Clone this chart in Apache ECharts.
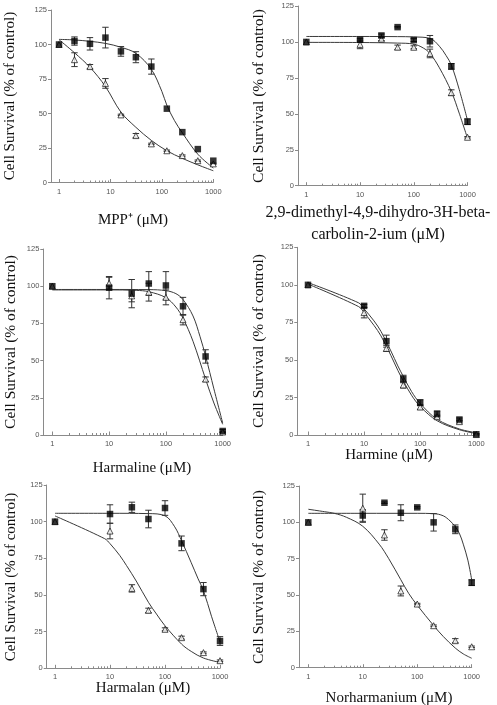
<!DOCTYPE html>
<html><head><meta charset="utf-8">
<script src="https://cdn.jsdelivr.net/npm/echarts@6/dist/echarts.min.js"></script>
<style>html,body{margin:0;padding:0;background:#fff}#c{width:497px;height:705px}</style>
</head><body><div id="c"></div>
<script>
// ---------- DATA ----------
// Panel 1: MPP+
const mppConc = [1, 2, 4, 8, 16, 31.25, 62.5, 125, 250, 500, 1000];
const mppSq = [100, 102.5, 100.5, 105, 95, 90.8, 84, 53.5, 36.5, 24.2, 15.8];
const mppSqErr = [0, 3, 4.5, 7.5, 3.5, 4, 5.5, 0, 0, 0, 0];
const mppTr = [100, 89, 84, 71.8, 49, 34, 28, 23, 19.5, 15.8, 13.5];
const mppTrErr = [0, 5, 1.5, 3.5, 0.5, 1.5, 0.5, 0.5, 0.5, 0.5, 0.5];
const mppSqFitX = [1, 2, 4, 8, 16, 31.25, 62.5, 100, 125, 175, 250, 500, 1000];
const mppSqFitY = [103.7, 103.3, 102.3, 100.8, 98, 93.6, 82, 66, 56, 45, 36, 20.5, 10.5];
const mppTrFitX = [1, 2, 4, 8, 16, 31.25, 62.5, 125, 250, 500, 1000];
const mppTrFitY = [103.5, 94, 83.5, 69.5, 51, 40, 30.5, 23, 17.5, 12.8, 8.5];

// Panel 2: 2,9-dimethyl-4,9-dihydro-3H-beta-carbolin-2-ium
const dmcConc = [1, 10, 25, 50, 100, 200, 500, 1000];
const dmcSq = [100, 101.5, 104.5, 110.3, 101.3, 100.5, 83, 44.5];
const dmcSqErr = [0, 1, 1, 0.5, 1, 4, 2, 2];
const dmcTr = [100, 98.3, 102, 96.3, 96.3, 92, 64.7, 33.7];
const dmcTrErr = [0, 3, 1, 1.5, 1, 3, 2, 0.5];
const dmcSqFitX = [1, 10, 50, 100, 200, 300, 400, 500, 700, 1000];
const dmcSqFitY = [103.8, 103.8, 103.7, 103.5, 102.5, 97, 90.5, 84, 67, 45.5];
const dmcTrFitX = [1, 10, 50, 100, 150, 200, 300, 500, 700, 1000];
const dmcTrFitY = [99.7, 99.6, 99.2, 98.5, 95.8, 92, 82, 65.5, 50.5, 33];

// Panel 3: Harmaline
const hlnConc = [1, 10, 25, 50, 100, 200, 500, 1000];
const hlnSq = [100, 99, 95, 101.8, 100.5, 86.5, 52.8, 2.7];
const hlnSqErr = [0, 7.5, 9.5, 8, 9.3, 6, 4.5, 1];
const hlnTr = [100, 102, 93.5, 96, 92.5, 77.5, 37.5, 2];
const hlnTrErr = [0, 4, 4, 6, 5, 3.5, 1.5, 0.5];
const hlnSqFitX = [1, 10, 50, 100, 150, 200, 300, 400, 500, 700, 1000];
const hlnSqFitY = [97.8, 97.8, 97.7, 97, 95, 91, 80, 66, 53, 31, 8];
const hlnTrFitX = [1, 10, 30, 50, 100, 150, 200, 300, 500, 700, 1000];
const hlnTrFitY = [97.5, 97.5, 97.2, 96.3, 92.3, 86, 78.5, 63, 37.5, 21.5, 7.2];

// Panel 4: Harmine
const hmnConc = [1, 10, 25, 50, 100, 200, 500, 1000];
const hmnSq = [100, 86, 62.5, 37.3, 21.5, 14, 10.3, 0.5];
const hmnSqErr = [0, 1, 4, 2.5, 2, 2, 1, 0.5];
const hmnTr = [100, 81.5, 57.7, 33.3, 18.6, 12.2, 8.9, 0.3];
const hmnTrErr = [0, 3.5, 2, 2, 1.5, 1, 1, 0.3];
const hmnSqFitX = [1, 8, 10, 15, 20, 30, 40, 50, 70, 100, 200, 500, 1000];
const hmnSqFitY = [101.5, 88, 84, 76, 69, 56, 46, 39, 29, 21, 10.5, 4, 1.5];
const hmnTrFitX = [1, 8, 10, 15, 20, 30, 40, 50, 70, 100, 200, 500, 1000];
const hmnTrFitY = [100.5, 85.5, 81.5, 73, 66, 53, 43, 36, 26.5, 19, 9.5, 3.5, 1];

// Panel 5: Harmalan
const hlaConc = [1, 10, 25, 50, 100, 200, 500, 1000];
const hlaSq = [100, 105.2, 109.8, 101.8, 109.3, 85.2, 54, 18.6];
const hlaSqErr = [0, 6.3, 3.5, 6, 5, 5, 4.5, 3];
const hlaTr = [100, 93.6, 54.5, 39.5, 26.6, 20.9, 10.7, 5.2];
const hlaTrErr = [0, 5.3, 2.5, 1.5, 1, 1, 0.5, 0.5];
const hlaSqFitX = [1, 10, 50, 100, 150, 200, 300, 400, 500, 700, 1000];
const hlaSqFitY = [105.7, 105.7, 105.5, 104, 96.5, 87, 72, 61, 53, 35.5, 18];
const hlaTrFitX = [1, 8, 10, 15, 20, 30, 50, 70, 100, 200, 300, 500, 1000];
const hlaTrFitY = [103.9, 88.4, 85, 77, 70, 59.5, 45, 37, 29, 16.5, 11.5, 7, 4];

// Panel 6: Norharmanium
const nhmConc = [1, 10, 25, 50, 100, 200, 500, 1000];
const nhmSq = [100, 104.7, 113.5, 106.6, 110.3, 100, 95.2, 58.5];
const nhmSqErr = [0, 4, 0.5, 5.5, 0.5, 6, 3, 2];
const nhmTr = [100, 109.7, 91.3, 52.8, 43.8, 28.9, 18.6, 14.4];
const nhmTrErr = [0, 9.7, 3.6, 3.4, 0.5, 0.5, 1.4, 0.5];
const nhmSqFitX = [1, 10, 100, 200, 300, 400, 500, 600, 700, 850, 1000];
const nhmSqFitY = [106.2, 106.2, 106.2, 106, 104.5, 101, 97, 92, 85, 74, 60.5];
const nhmTrFitX = [1, 2, 3, 5, 10, 20, 30, 50, 70, 100, 200, 300, 500, 700, 1000];
const nhmTrFitY = [109, 107.3, 106.2, 103.5, 97.3, 85, 75, 60.5, 51, 43, 29, 21.5, 13.5, 9.5, 6.5];

// Tick labels
const yTicks = [0, 25, 50, 75, 100, 125];
const xMajorTicks = [1, 10, 100, 1000];
const xMinorTicks = [2, 3, 4, 5, 6, 7, 8, 9, 20, 30, 40, 50, 60, 70, 80, 90, 200, 300, 400, 500, 600, 700, 800, 900];

// Axis titles
const yTitle = 'Cell Survival (% of control)';
const xTitles = [
  ['MPP\u207A (\u03BCM)'],
  ['2,9-dimethyl-4,9-dihydro-3H-beta-', 'carbolin-2-ium (\u03BCM)'],
  ['Harmaline (\u03BCM)'],
  ['Harmine (\u03BCM)'],
  ['Harmalan (\u03BCM)'],
  ['Norharmanium (\u03BCM)']
];

const panelData = [
  [mppConc, mppSq, mppSqErr, mppTr, mppTrErr, mppSqFitX, mppSqFitY, mppTrFitX, mppTrFitY],
  [dmcConc, dmcSq, dmcSqErr, dmcTr, dmcTrErr, dmcSqFitX, dmcSqFitY, dmcTrFitX, dmcTrFitY],
  [hlnConc, hlnSq, hlnSqErr, hlnTr, hlnTrErr, hlnSqFitX, hlnSqFitY, hlnTrFitX, hlnTrFitY],
  [hmnConc, hmnSq, hmnSqErr, hmnTr, hmnTrErr, hmnSqFitX, hmnSqFitY, hmnTrFitX, hmnTrFitY],
  [hlaConc, hlaSq, hlaSqErr, hlaTr, hlaTrErr, hlaSqFitX, hlaSqFitY, hlaTrFitX, hlaTrFitY],
  [nhmConc, nhmSq, nhmSqErr, nhmTr, nhmTrErr, nhmSqFitX, nhmSqFitY, nhmTrFitX, nhmTrFitY]
];

// ---------- LAYOUT ----------
const layout = [
  {left: 51, top: 10, width: 162.3, height: 172.5, xmin: 0.699, yt: [10, 96, 15], xt: [133, 220, 15]},
  {left: 298, top: 6, width: 169.5, height: 179.7, xmin: 0.70, yt: [259, 96, 15.5], xt: [378, 213, 16, 22]},
  {left: 43.3, top: 249, width: 179.4, height: 186, xmin: 0.694, yt: [11, 342, 15.5], xt: [142, 468, 15]},
  {left: 297.3, top: 247.3, width: 179, height: 187.7, xmin: 0.645, yt: [259, 341, 15.5], xt: [389, 455, 15]},
  {left: 46.7, top: 485, width: 173.3, height: 183.3, xmin: 0.706, yt: [11, 577, 15], xt: [143, 688, 15]},
  {left: 299, top: 486, width: 172.7, height: 181.7, xmin: 0.675, yt: [259, 577, 15.5], xt: [389, 698, 15]}
];

const AXIS_COLOR = '#8a8a8a';
const LABEL_COLOR = '#555';
const SANS = "'Liberation Sans', Arial, sans-serif";
const SERIF = "'Liberation Serif', 'Times New Roman', serif";

function errRender(params, api) {
  const x = api.value(0), y = api.value(1), e = api.value(2);
  if (!e) return null;
  const t = api.coord([x, y + e]);
  const b = api.coord([x, y - e]);
  const w = 3.2;
  const st = {stroke: '#333', lineWidth: 1};
  return {type: 'group', children: [
    {type: 'line', shape: {x1: t[0], y1: t[1], x2: b[0], y2: b[1]}, style: st},
    {type: 'line', shape: {x1: t[0] - w, y1: t[1], x2: t[0] + w, y2: t[1]}, style: st},
    {type: 'line', shape: {x1: b[0] - w, y1: b[1], x2: b[0] + w, y2: b[1]}, style: st}
  ]};
}

const zip = (a, b) => a.map((v, i) => [v, b[i]]);
const zip3 = (a, b, c) => a.map((v, i) => [v, b[i], c[i]]);

const grids = [], xAxes = [], yAxes = [], series = [], graphics = [];
layout.forEach((L, i) => {
  grids.push({left: L.left, top: L.top, width: L.width, height: L.height, containLabel: false});
  xAxes.push({
    type: 'log', logBase: 10, gridIndex: i, position: 'bottom', min: L.xmin, max: 1000,
    axisLine: {show: true, lineStyle: {color: AXIS_COLOR, width: 1}},
    axisTick: {show: true, inside: true, length: 3.5, customValues: xMajorTicks, lineStyle: {color: AXIS_COLOR}},
    axisLabel: {show: true, customValues: xMajorTicks, fontSize: 7.5, color: LABEL_COLOR, fontFamily: SANS, margin: 5,
      formatter: v => String(Math.round(v))},
    splitLine: {show: false}, minorTick: {show: false}
  });
  xAxes.push({
    type: 'log', logBase: 10, gridIndex: i, position: 'bottom', min: L.xmin, max: 1000,
    axisLine: {show: false},
    axisTick: {show: true, inside: true, length: 2, customValues: xMinorTicks, lineStyle: {color: AXIS_COLOR}},
    axisLabel: {show: false},
    splitLine: {show: false}
  });
  yAxes.push({
    type: 'value', gridIndex: i, min: 0, max: 125, interval: 25,
    axisLine: {show: true, lineStyle: {color: AXIS_COLOR, width: 1}},
    axisTick: {show: true, inside: false, length: 3, lineStyle: {color: AXIS_COLOR}},
    axisLabel: {fontSize: 7.5, color: LABEL_COLOR, fontFamily: SANS, margin: 4},
    splitLine: {show: false}
  });
  const D = panelData[i];
  const xi = i * 2;
  series.push({type: 'line', xAxisIndex: xi, yAxisIndex: i, data: zip(D[7], D[8]), smooth: 0.35, showSymbol: false, symbol: 'none',
    lineStyle: {color: '#3a3a3a', width: 1}, z: 1, silent: true});
  series.push({type: 'line', xAxisIndex: xi, yAxisIndex: i, data: zip(D[5], D[6]), smooth: 0.35, showSymbol: false, symbol: 'none',
    lineStyle: {color: '#3a3a3a', width: 1}, z: 1, silent: true});
  series.push({type: 'custom', xAxisIndex: xi, yAxisIndex: i, renderItem: errRender, data: zip3(D[0], D[3], D[4]),
    encode: {x: 0, y: 1}, z: 2, silent: true});
  series.push({type: 'custom', xAxisIndex: xi, yAxisIndex: i, renderItem: errRender, data: zip3(D[0], D[1], D[2]),
    encode: {x: 0, y: 1}, z: 2, silent: true});
  series.push({type: 'scatter', xAxisIndex: xi, yAxisIndex: i, data: zip(D[0], D[3]), symbol: 'triangle', symbolSize: 6,
    itemStyle: {color: '#fff', borderColor: '#111', borderWidth: 0.9}, z: 3, silent: true});
  series.push({type: 'scatter', xAxisIndex: xi, yAxisIndex: i, data: zip(D[0], D[1]), symbol: 'rect', symbolSize: 6.5,
    itemStyle: {color: '#000'}, z: 4, silent: true});

  graphics.push({type: 'text', x: L.yt[0], y: L.yt[1], rotation: Math.PI / 2,
    style: {text: yTitle, font: L.yt[2] + 'px ' + SERIF, fill: '#111', align: 'center', verticalAlign: 'middle'}});
  xTitles[i].forEach((t, k) => {
    graphics.push({type: 'text', x: L.xt[0], y: L.xt[1] + k * (L.xt[3] || 0),
      style: {text: t, font: L.xt[2] + 'px ' + SERIF, fill: '#111', align: 'center', verticalAlign: 'middle'}});
  });
});

const chart = echarts.init(document.getElementById('c'), null, {renderer: 'canvas'});
chart.setOption({
  animation: false,
  backgroundColor: '#fff',
  grid: grids, xAxis: xAxes, yAxis: yAxes, series: series,
  graphic: graphics
});
</script>
</body></html>
